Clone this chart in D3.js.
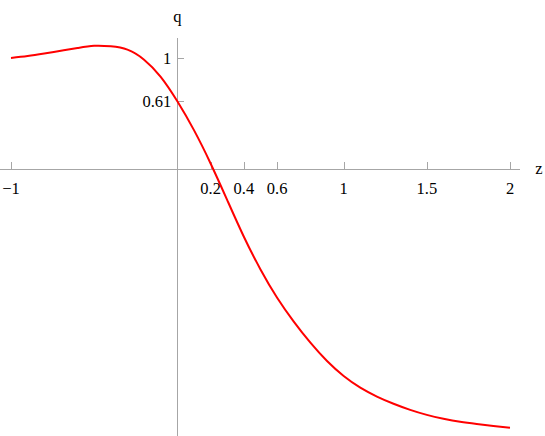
<!DOCTYPE html>
<html lang="en">

<head>
    <meta charset="utf-8">
    <style type="text/css">
        body { margin: 0; background: #fff; }
        .tick-label { font-family: "Liberation Serif", "Times New Roman", serif; font-size: 16.5px; fill: #000; }
        .axis-line { stroke: #a6a6a6; stroke-width: 1px; shape-rendering: crispEdges; }
    </style>
</head>

<body>
    <svg width="545" height="436"></svg>
    <script src="https://d3js.org/d3.v7.min.js" type="text/javascript"></script>

    <script type="text/javascript">
        // curve values
        var zValues = [-1, -0.9, -0.8, -0.7, -0.6, -0.5, -0.4, -0.3, -0.2, -0.1,
            0, 0.1, 0.2, 0.3, 0.4, 0.5, 0.6, 0.7, 0.8, 0.9,
            1.0, 1.1, 1.2, 1.3, 1.4, 1.5, 1.6, 1.7, 1.8, 1.9, 2.0];
        var qValues = [1.0, 1.017, 1.04, 1.065, 1.09, 1.11, 1.105, 1.075, 0.985, 0.83,
            0.61, 0.35, 0.05, -0.28, -0.61, -0.905, -1.16, -1.375, -1.565, -1.73,
            -1.865, -1.97, -2.05, -2.115, -2.17, -2.215, -2.25, -2.278, -2.298, -2.315, -2.33];

        var xTicks = [-1, 0.2, 0.4, 0.6, 1, 1.5, 2];
        var xTickLabels = ["\u22121", "0.2", "0.4", "0.6", "1", "1.5", "2"];
        var yTicks = [1, 0.61];
        var yTickLabels = ["1", "0.61"];

        var svg = d3.select("svg"),
            width = +svg.attr("width"),
            height = +svg.attr("height");

        var x = d3.scaleLinear().domain([-1, 2]).range([11, 510]);
        var y = d3.scaleLinear().domain([0, 1]).range([169, 58]);

        var x0 = x(0), y0 = y(0);

        // axes lines
        svg.append("line").attr("class", "axis-line")
            .attr("x1", 0).attr("x2", x(2.06))
            .attr("y1", y0 + 0.5).attr("y2", y0 + 0.5);
        svg.append("line").attr("class", "axis-line")
            .attr("x1", x0 + 0.5).attr("x2", x0 + 0.5)
            .attr("y1", y(1.18)).attr("y2", height);

        // x ticks
        var xt = svg.selectAll(".xtick")
            .data(xTicks)
            .enter()
            .append("g")
            .attr("class", "xtick")
            .attr("transform", function (d) { return "translate(" + x(d) + "," + y0 + ")"; });
        xt.append("line").attr("class", "axis-line")
            .attr("x1", 0.5).attr("x2", 0.5).attr("y1", 0).attr("y2", -7);
        xt.append("text").attr("class", "tick-label")
            .attr("text-anchor", "middle")
            .attr("y", 25)
            .text(function (d, i) { return xTickLabels[i]; });

        // y ticks
        var yt = svg.selectAll(".ytick")
            .data(yTicks)
            .enter()
            .append("g")
            .attr("class", "ytick")
            .attr("transform", function (d) { return "translate(" + x0 + "," + y(d) + ")"; });
        yt.append("line").attr("class", "axis-line")
            .attr("x1", 0).attr("x2", 7).attr("y1", 0.5).attr("y2", 0.5);
        yt.append("text").attr("class", "tick-label")
            .attr("text-anchor", "end")
            .attr("x", -6)
            .attr("dy", "0.35em")
            .text(function (d, i) { return yTickLabels[i]; });

        // axis names
        svg.append("text").attr("class", "tick-label")
            .attr("x", x0).attr("y", 22)
            .attr("text-anchor", "middle")
            .text("q");
        svg.append("text").attr("class", "tick-label")
            .attr("x", 539).attr("y", y0 + 5)
            .attr("text-anchor", "middle")
            .text("z");

        // curve
        var pts = zValues.map(function (z, i) { return [z, qValues[i]]; });
        var line = d3.line()
            .x(function (d) { return x(d[0]); })
            .y(function (d) { return y(d[1]); })
            .curve(d3.curveNatural);

        svg.append("path")
            .datum(pts)
            .attr("d", line)
            .attr("fill", "none")
            .attr("stroke", "#ff0000")
            .attr("stroke-width", 2);
    </script>

</body>

</html>
